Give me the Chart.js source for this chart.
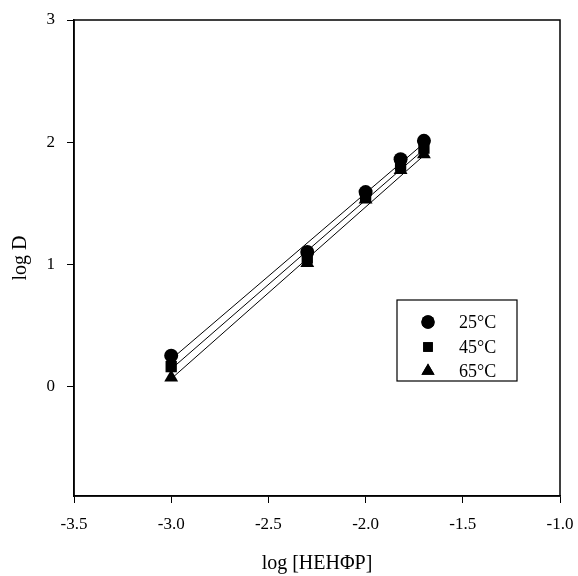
<!DOCTYPE html>
<html>
<head>
<meta charset="utf-8">
<script src="https://cdn.jsdelivr.net/npm/chart.js@4.4.0/dist/chart.umd.min.js"></script>
<style>
html,body{margin:0;padding:0;background:#fff;}
#wrap{width:578px;height:576px;}
</style>
</head>
<body>
<div id="wrap"><canvas id="c" width="578" height="576"></canvas></div>
<script>
// Data
const logHEHPP = [-3.0, -2.3, -2.0, -1.82, -1.7];
const logD25 = [0.25, 1.10, 1.59, 1.86, 2.01];
const logD45 = [0.16, 1.05, 1.56, 1.81, 1.95];
const logD65 = [0.07, 1.01, 1.53, 1.77, 1.90];
// Fitted line end points
const fitX = [-3.0, -1.7];
const fit25 = [0.22, 1.99];
const fit45 = [0.14, 1.94];
const fit65 = [0.06, 1.89];
const seriesLabels = ['25°C', '45°C', '65°C'];
const markerStyles = ['circle', 'rect', 'triangle'];
const xTicks = [-3.5, -3.0, -2.5, -2.0, -1.5, -1.0];
const yTicks = [0, 1, 2, 3];

const FONT = '"Liberation Serif", "DejaVu Serif", serif';
const toPts = (xs, ys) => xs.map((x, i) => ({x: x, y: ys[i]}));
const markerRadius = {circle: 7, rect: 8, triangle: 8};

const lineDs = (ys) => ({
  type: 'scatter', data: toPts(fitX, ys), showLine: true,
  borderColor: '#000', borderWidth: 1, pointRadius: 0, order: 2
});
const ptDs = (ys, i) => ({
  type: 'scatter', label: seriesLabels[i], data: toPts(logHEHPP, ys),
  pointStyle: markerStyles[i], pointRadius: markerRadius[markerStyles[i]],
  pointHoverRadius: markerRadius[markerStyles[i]],
  backgroundColor: '#000', borderColor: '#000', borderWidth: 0, order: 1
});

const framePlugin = {
  id: 'frame',
  afterDatasetsDraw(chart) {
    const a = chart.chartArea, ctx = chart.ctx;
    ctx.save();
    ctx.strokeStyle = '#000';
    ctx.lineWidth = 1.5;
    ctx.strokeRect(a.left, a.top, a.right - a.left, a.bottom - a.top);
    ctx.restore();
  }
};

const legendPlugin = {
  id: 'boxLegend',
  afterDraw(chart) {
    const ctx = chart.ctx;
    const bx = 397, by = 300, bw = 120, bh = 81;
    ctx.save();
    ctx.fillStyle = '#fff';
    ctx.fillRect(bx, by, bw, bh);
    ctx.strokeStyle = '#000';
    ctx.lineWidth = 1.2;
    ctx.strokeRect(bx, by, bw, bh);
    const ys = [322, 347, 371];
    ctx.fillStyle = '#000';
    ctx.font = '18px ' + FONT;
    ctx.textBaseline = 'middle';
    ctx.textAlign = 'left';
    seriesLabels.forEach((lab, i) => {
      const st = markerStyles[i];
      Chart.helpers.drawPoint(ctx, {pointStyle: st, radius: markerRadius[st] * (st === 'rect' ? 0.85 : 0.95), borderWidth: 0}, 428, ys[i]);
      ctx.fillStyle = '#000';
      ctx.fill();
      ctx.fillText(lab, 459, ys[i] + 1);
    });
    ctx.restore();
  }
};

new Chart(document.getElementById('c'), {
  data: {
    datasets: [
      lineDs(fit25), lineDs(fit45), lineDs(fit65),
      ptDs(logD25, 0), ptDs(logD45, 1), ptDs(logD65, 2)
    ]
  },
  options: {
    responsive: false,
    animation: false,
    devicePixelRatio: 1,
    layout: {padding: {top: 20, right: 18, left: 0, bottom: 0}},
    plugins: {legend: {display: false}, tooltip: {enabled: false}},
    scales: {
      x: {
        type: 'linear', min: -3.5, max: -1.0,
        afterBuildTicks: (s) => { s.ticks = xTicks.map(v => ({value: v})); },
        afterFit: (s) => { s.height = 80; s.paddingLeft = 0; s.paddingRight = 0; },
        border: {display: true, color: '#000', width: 1.5},
        grid: {display: true, drawOnChartArea: false, drawTicks: true, tickLength: 7, color: '#000', tickColor: '#000', tickWidth: 1},
        ticks: {color: '#000', font: {family: FONT, size: 17}, padding: 11, maxRotation: 0,
          callback: (v) => Number(v).toFixed(1)},
        title: {display: true, text: 'log [HEHΦP]', color: '#000', font: {family: FONT, size: 20}, padding: {top: 0, bottom: 0}}
      },
      y: {
        type: 'linear', min: -0.9, max: 3,
        afterBuildTicks: (s) => { s.ticks = yTicks.map(v => ({value: v})); },
        afterFit: (s) => { s.width = 74; s.paddingTop = 0; s.paddingBottom = 0; },
        border: {display: true, color: '#000', width: 1.5},
        grid: {display: true, drawOnChartArea: false, drawTicks: true, tickLength: 7, color: '#000', tickColor: '#000', tickWidth: 1},
        ticks: {color: '#000', font: {family: FONT, size: 17}, padding: 12,
          callback: (v) => String(v)},
        title: {display: true, text: 'log D', color: '#000', font: {family: FONT, size: 20}, padding: {top: 9, bottom: 0}}
      }
    }
  },
  plugins: [framePlugin, legendPlugin]
});
</script>
</body>
</html>
